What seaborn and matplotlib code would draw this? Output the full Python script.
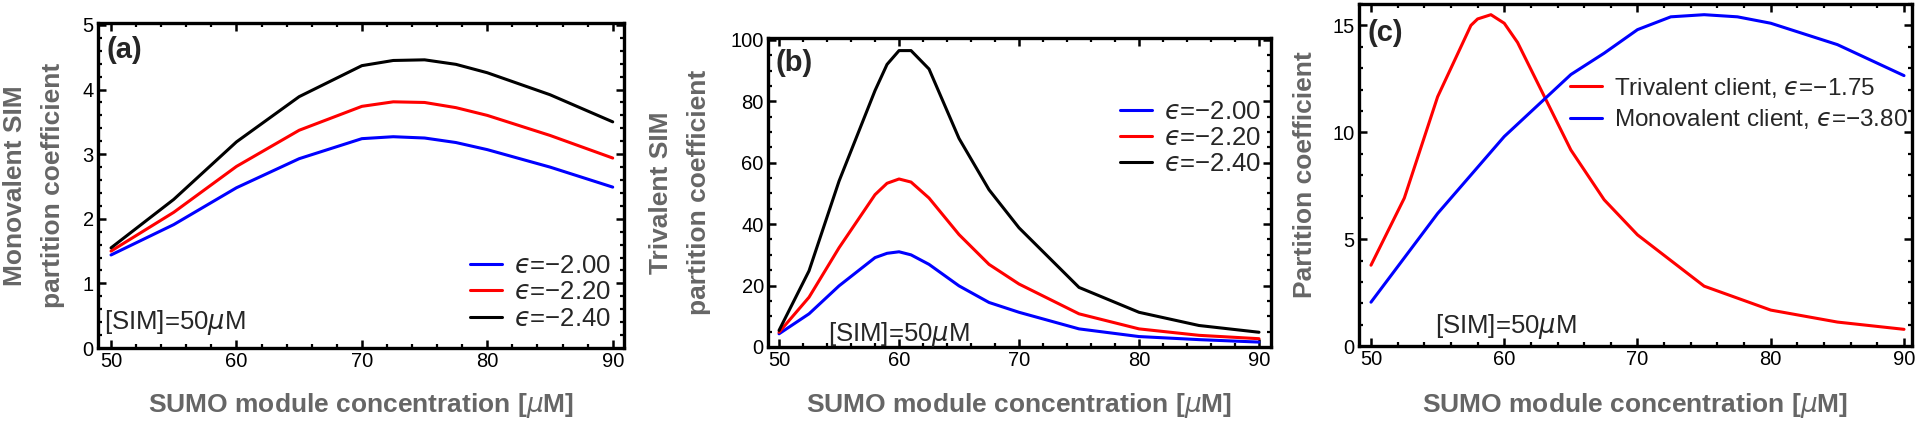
import matplotlib
matplotlib.use('Agg')
import matplotlib.pyplot as plt
from matplotlib.ticker import MultipleLocator
import seaborn as sns
import numpy as np
import pandas as pd

# panel (a): monovalent SIM
conc_a = [50, 55, 60, 65, 70, 72.5, 75, 77.5, 80, 85, 90]
mono_eps200 = [1.44, 1.91, 2.48, 2.93, 3.24, 3.27, 3.25, 3.18, 3.07, 2.80, 2.49]
mono_eps220 = [1.50, 2.10, 2.81, 3.37, 3.74, 3.81, 3.80, 3.72, 3.60, 3.29, 2.94]
mono_eps240 = [1.55, 2.30, 3.19, 3.89, 4.37, 4.45, 4.46, 4.39, 4.26, 3.92, 3.50]

# panel (b): trivalent SIM
conc_b = [50, 52.5, 55, 58, 59, 60, 61, 62.5, 65, 67.5, 70, 75, 80, 85, 90]
tri_eps200 = [4.3, 10.8, 19.9, 29.1, 30.5, 31.0, 30.0, 26.9, 19.9, 14.5, 11.3, 5.9, 3.4, 2.4, 1.6]
tri_eps220 = [4.8, 16.2, 32.3, 49.6, 53.3, 54.7, 53.7, 48.5, 36.6, 26.9, 20.5, 10.8, 5.9, 3.8, 2.7]
tri_eps240 = [5.4, 24.8, 54.0, 83.5, 92.0, 96.5, 96.5, 90.5, 67.9, 51.2, 38.8, 19.4, 11.3, 7.0, 4.8]

# panel (c): clients
conc_c_tri = [50, 52.5, 55, 57.5, 58, 59, 60, 61, 65, 67.5, 70, 75, 80, 85, 90]
client_tri = [3.78, 6.92, 11.66, 15.0, 15.3, 15.5, 15.1, 14.2, 9.17, 6.84, 5.2, 2.8, 1.68, 1.12, 0.78]
conc_c_mono = [50, 55, 60, 65, 67.5, 70, 72.5, 75, 77.5, 80, 85, 90]
client_mono = [2.05, 6.2, 9.8, 12.7, 13.7, 14.8, 15.4, 15.5, 15.4, 15.1, 14.1, 12.65]

eps_labels = ['$\u03f5$=\u22122.00', '$\u03f5$=\u22122.20', '$\u03f5$=\u22122.40']
client_labels = ['Trivalent client, $\u03f5$=\u22121.75', 'Monovalent client, $\u03f5$=\u22123.80']

sns.set_style('ticks')
plt.rcParams['font.family'] = ['Liberation Sans', 'DejaVu Sans']
plt.rcParams['mathtext.fontset'] = 'dejavusans'

W, H = 1920, 422
gray = '#666666'
fig = plt.figure(figsize=(W / 100, H / 100), dpi=100)

def px_axes(l, t, r, b):
    return fig.add_axes([l / W, 1 - b / H, (r - l) / W, (b - t) / H])

def style(ax, xlim, ylim, ymaj, ymin):
    ax.set_xlim(*xlim)
    ax.set_ylim(*ylim)
    ax.xaxis.set_major_locator(MultipleLocator(10))
    ax.xaxis.set_minor_locator(MultipleLocator(2))
    ax.yaxis.set_major_locator(MultipleLocator(ymaj))
    ax.yaxis.set_minor_locator(MultipleLocator(ymin))
    ax.tick_params(which='both', direction='in', top=True, right=True, colors='black', labelsize=14.5)
    ax.tick_params(which='major', length=5.5, width=1.8)
    ax.tick_params(which='minor', length=2.8, width=1.6)
    ax.tick_params(axis='x', pad=3)
    ax.tick_params(axis='y', pad=3)
    for s in ax.spines.values():
        s.set_linewidth(2.4)
        s.set_color('black')
        s.set_visible(True)
    ax.set_xlabel('')
    ax.set_ylabel('')

def xlabel(xc):
    fig.text(xc / W, 1 - 406 / H, 'SUMO module concentration [$\\mu$M]', ha='center', va='center',
             fontsize=19, fontweight='bold', color=gray)

lw = 2.2

# (a)
ax1 = px_axes(98, 23, 624, 348)
for y, c, lab in zip([mono_eps200, mono_eps220, mono_eps240], ['#0000ff', '#ff0000', 'black'], eps_labels):
    sns.lineplot(x=conc_a, y=y, ax=ax1, color=c, lw=lw, label=lab)
style(ax1, (48.96, 90.9), (0, 5.03), 1, 0.2)
ax1.legend(loc='upper left', bbox_to_anchor=(0.707, 0.288), frameon=False, fontsize=18.5,
           handlelength=1.25, handletextpad=0.45, labelspacing=0.08, borderpad=0, borderaxespad=0)
ax1.text(0.017, 0.917, '(a)', transform=ax1.transAxes, fontsize=21, fontweight='bold', va='center')
ax1.text(0.012, 0.077, '[SIM]=50$\\mu$M', transform=ax1.transAxes, fontsize=18.5, va='center')
fig.text(34 / W, 1 - 185.5 / H, 'Monovalent SIM\npartition coefficient', rotation=90, ha='center', va='center',
         fontsize=19, fontweight='bold', color=gray, linespacing=1.75)
xlabel(361)

# (b)
ax2 = px_axes(768, 38, 1271, 347)
for y, c, lab in zip([tri_eps200, tri_eps220, tri_eps240], ['#0000ff', '#ff0000', 'black'], eps_labels):
    sns.lineplot(x=conc_b, y=y, ax=ax2, color=c, lw=lw, label=lab)
style(ax2, (49.08, 91.0), (0, 100.6), 20, 5)
ax2.legend(loc='upper left', bbox_to_anchor=(0.70, 0.80), frameon=False, fontsize=18.5,
           handlelength=1.25, handletextpad=0.45, labelspacing=0.08, borderpad=0, borderaxespad=0)
ax2.text(0.014, 0.919, '(b)', transform=ax2.transAxes, fontsize=21, fontweight='bold', va='center')
ax2.text(0.119, 0.039, '[SIM]=50$\\mu$M', transform=ax2.transAxes, fontsize=18.5, va='center')
fig.text(680 / W, 1 - 192.5 / H, 'Trivalent SIM\npartition coefficient', rotation=90, ha='center', va='center',
         fontsize=19, fontweight='bold', color=gray, linespacing=1.75)
xlabel(1019)

# (c)
ax3 = px_axes(1359, 4, 1912, 346)
sns.lineplot(x=conc_c_tri, y=client_tri, ax=ax3, color='#ff0000', lw=lw, label=client_labels[0])
sns.lineplot(x=conc_c_mono, y=client_mono, ax=ax3, color='#0000ff', lw=lw, label=client_labels[1])
style(ax3, (49.1, 90.6), (0, 16), 5, 1)
ax3.legend(loc='upper right', bbox_to_anchor=(0.992, 0.79), frameon=False, fontsize=17.5,
           handlelength=1.3, handletextpad=0.5, labelspacing=0.3, borderpad=0, borderaxespad=0)
ax3.text(0.016, 0.915, '(c)', transform=ax3.transAxes, fontsize=21, fontweight='bold', va='center')
ax3.text(0.137, 0.056, '[SIM]=50$\\mu$M', transform=ax3.transAxes, fontsize=18.5, va='center')
fig.text(1305 / W, 1 - 175 / H, 'Partition coefficient', rotation=90, ha='center', va='center',
         fontsize=19, fontweight='bold', color=gray)
xlabel(1635)

fig.savefig('out.png', dpi=100)
